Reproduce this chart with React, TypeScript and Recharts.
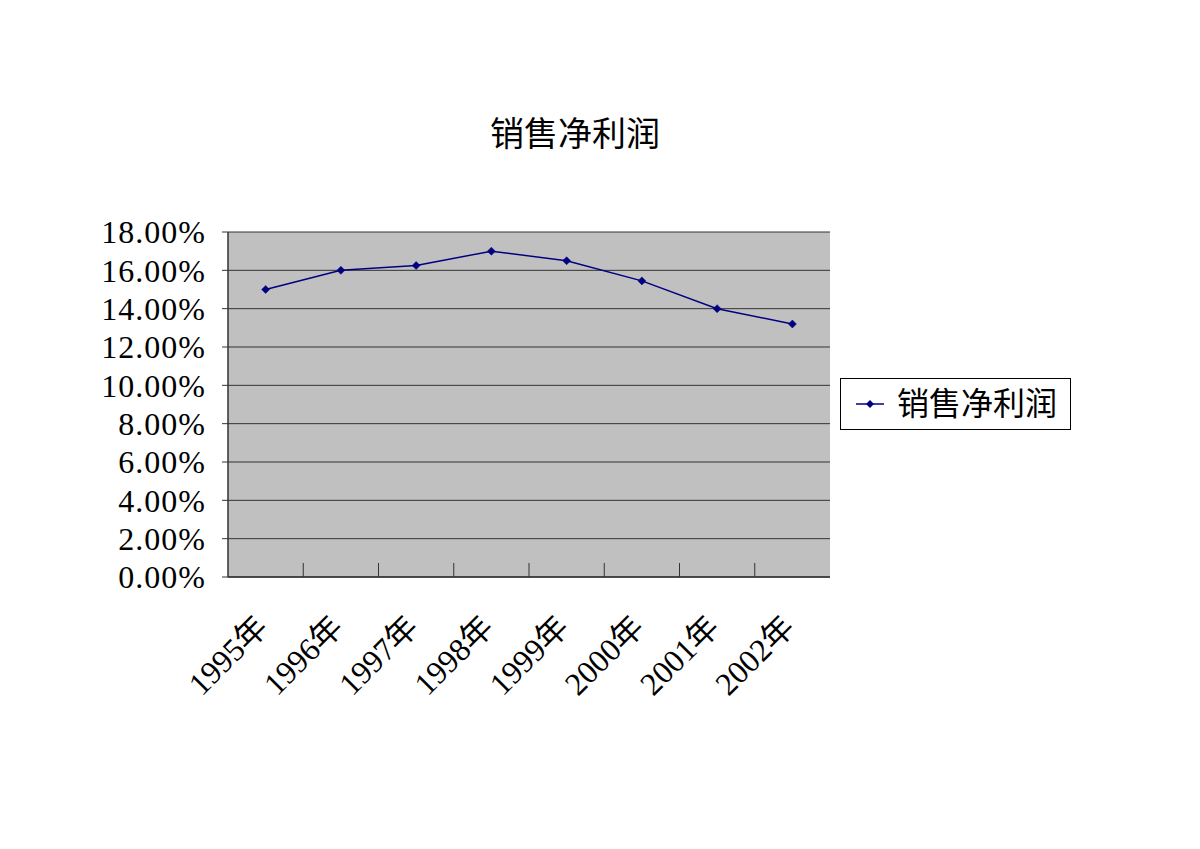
import React from 'react';
import { LineChart, Line, XAxis, YAxis, CartesianGrid, Legend } from 'recharts';

const chartTitle = '销售净利润';
const seriesName = '销售净利润';
const years = ['1995年', '1996年', '1997年', '1998年', '1999年', '2000年', '2001年', '2002年'];
const netMargin = [15.0, 16.0, 16.25, 17.0, 16.5, 15.45, 14.0, 13.2];
const yTicks = [0, 2, 4, 6, 8, 10, 12, 14, 16, 18];

const data = years.map((y, i) => ({ year: y, value: netMargin[i] }));

const NAVY = '#000080';
const SERIF = '"Liberation Serif", "Times New Roman", "Noto Sans CJK SC", serif';

const Diamond = (props: any) => {
  const { cx, cy } = props;
  if (cx == null || cy == null) return null;
  const r = 4;
  return (
    <path
      d={`M${cx},${cy - r}L${cx + r},${cy}L${cx},${cy + r}L${cx - r},${cy}Z`}
      fill={NAVY}
      stroke={NAVY}
      strokeWidth={0.5}
    />
  );
};

const XTick = (props: any) => {
  const { x, y, payload, index } = props;
  const half = payload && typeof payload.offset === 'number' && payload.offset > 0 ? payload.offset : 0;
  return (
    <g>
      {index < years.length - 1 && half > 0 && (
        <line x1={x + half} x2={x + half} y1={y} y2={y - 14} stroke="#333" strokeWidth={1} />
      )}
      <text
        transform={`translate(${x + 4},${y + 52}) rotate(-45)`}
        textAnchor="end"
        fontSize={32}
        fontFamily={SERIF}
        fill="#000"
      >
        {payload.value}
      </text>
    </g>
  );
};

const YTick = (props: any) => {
  const { x, y, payload } = props;
  return (
    <text x={x} y={y} dy="0.35em" textAnchor="end" fontSize={32} fontFamily={SERIF} fill="#000" letterSpacing={1}>
      {`${Number(payload.value).toFixed(2)}%`}
    </text>
  );
};

const LegendBox = () => (
  <div
    style={{
      width: 231,
      height: 52,
      border: '1px solid #000',
      background: '#fff',
      display: 'flex',
      alignItems: 'center',
      boxSizing: 'border-box',
    }}
  >
    <svg width={56} height={20} style={{ marginLeft: 14 }}>
      <line x1={1} x2={29} y1={10} y2={10} stroke={NAVY} strokeWidth={1.5} />
      <path d="M15,6L19,10L15,14L11,10Z" fill={NAVY} />
    </svg>
    <span style={{ fontSize: 32, fontFamily: SERIF, color: '#000', marginLeft: -14, lineHeight: 1 }}>{seriesName}</span>
  </div>
);

export default function App() {
  return (
    <div style={{ position: 'absolute', left: 0, top: 0, width: 1200, height: 849, background: '#fff' }}>
      <div
        style={{
          position: 'absolute',
          left: 0,
          top: 118,
          width: 1150,
          textAlign: 'center',
          fontSize: 34,
          fontFamily: SERIF,
          color: '#000',
          lineHeight: 1,
        }}
      >
        {chartTitle}
      </div>
      <LineChart
        width={1200}
        height={849}
        data={data}
        margin={{ top: 232, right: 370, left: 108, bottom: 118 }}
        style={{ position: 'absolute', left: 0, top: 0 }}
      >
        <CartesianGrid vertical={false} fill="#C0C0C0" stroke="#333" strokeWidth={1} fillOpacity={1} />
        <XAxis
          dataKey="year"
          scale="band"
          interval={0}
          tickLine={false}
          tickSize={0}
          tickMargin={0}
          height={100}
          axisLine={{ stroke: '#333', strokeWidth: 1.5 }}
          tick={<XTick />}
        />
        <YAxis
          domain={[0, 18]}
          ticks={yTicks}
          width={120}
          tickSize={6}
          tickMargin={16}
          tickLine={{ stroke: '#333' }}
          axisLine={{ stroke: '#333', strokeWidth: 1.5 }}
          tick={<YTick />}
          interval={0}
        />
        <YAxis
          yAxisId="frame"
          orientation="right"
          domain={[0, 18]}
          width={0}
          tick={false}
          tickLine={false}
          axisLine={{ stroke: '#808080', strokeWidth: 1.5 }}
        />
        <Legend
          content={<LegendBox />}
          wrapperStyle={{ position: 'absolute', left: 840, top: 378, width: 233, height: 54 }}
        />
        <Line
          type="linear"
          dataKey="value"
          name={seriesName}
          stroke={NAVY}
          strokeWidth={1.5}
          dot={<Diamond />}
          activeDot={false}
          isAnimationActive={false}
        />
      </LineChart>
    </div>
  );
}
